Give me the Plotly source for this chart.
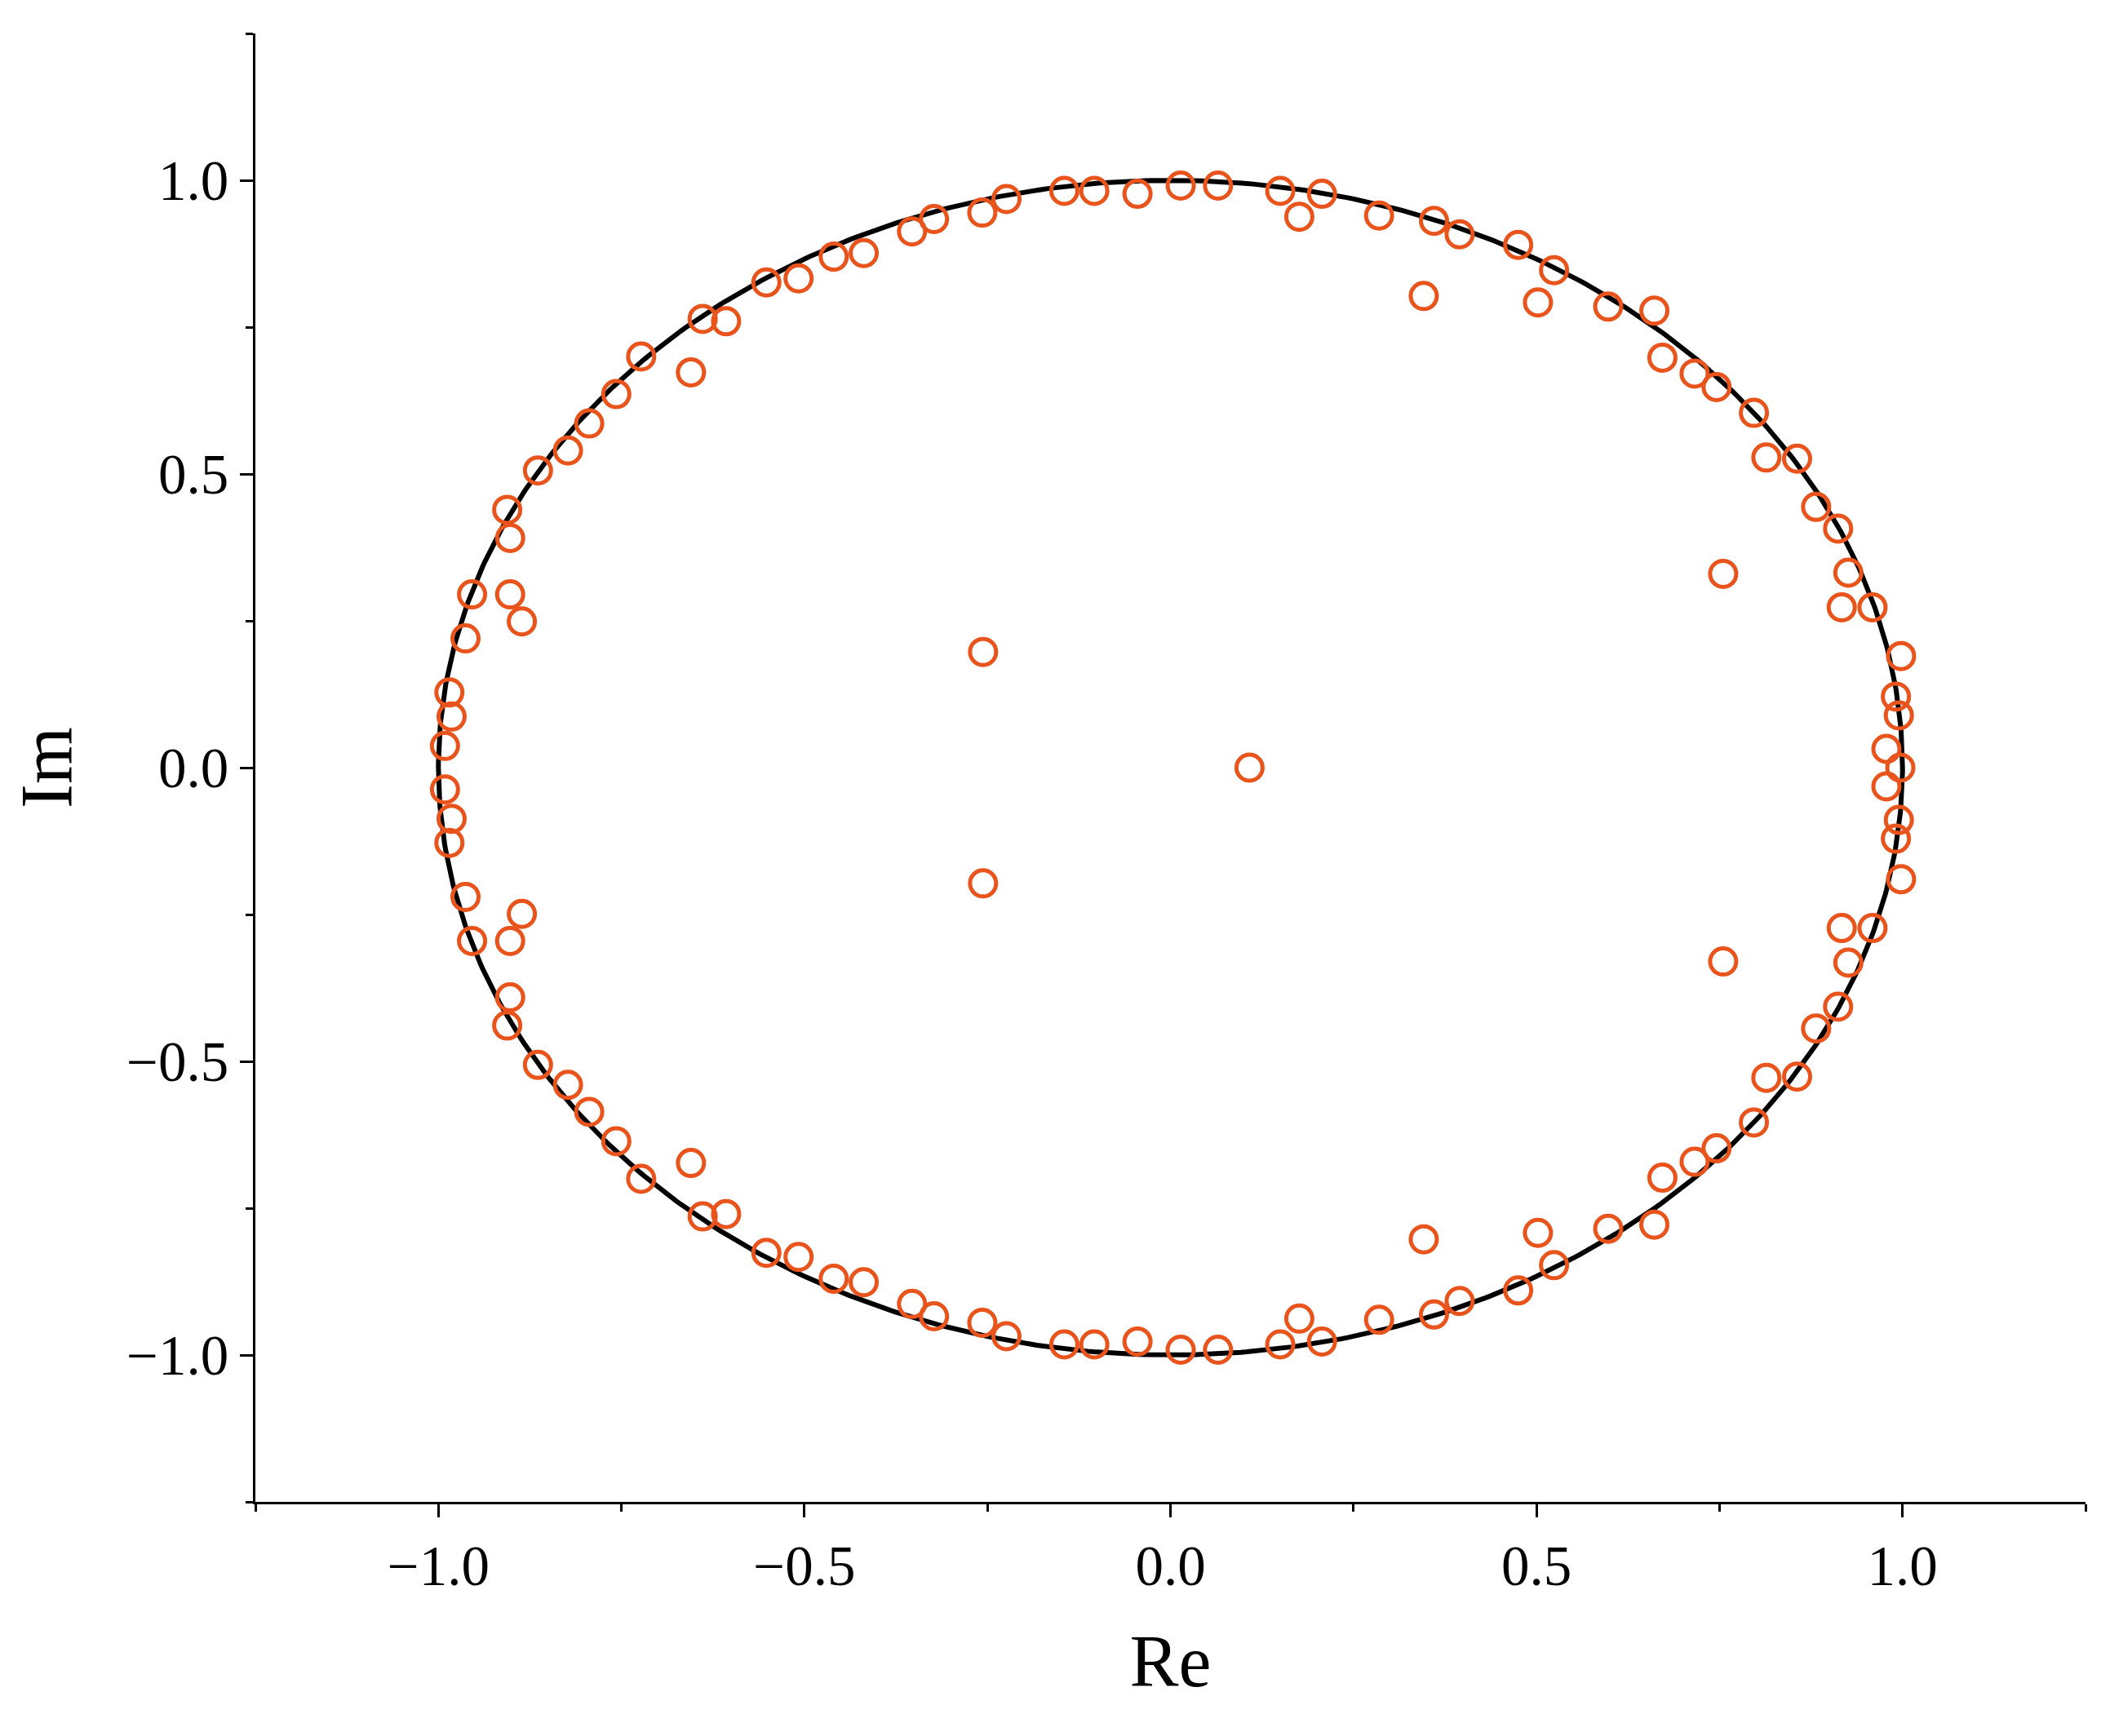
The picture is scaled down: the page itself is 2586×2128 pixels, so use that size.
import numpy as np
import plotly.graph_objects as go

# Poles in the upper half plane (Re, Im); the lower half is the conjugate mirror
re_upper = [-0.145, -0.104, -0.045, 0.014, 0.065, 0.150, 0.207, 0.176, 0.285, 0.360,
            0.395, 0.475, 0.524, 0.346, 0.502, 0.598, 0.661, 0.672, 0.716, 0.746,
            0.797, 0.814, 0.856, 0.882, 0.912, 0.926, 0.917, 0.959, 0.755, 0.998,
            0.991, 0.995, 0.978,
            -0.224, -0.257, -0.323, -0.353, -0.419, -0.460, -0.508, -0.552, -0.607,
            -0.639, -0.655, -0.723, -0.757, -0.794, -0.823, -0.864, -0.906, -0.902,
            -0.902, -0.954, -0.886, -0.963, -0.985, -0.982, -0.991, -0.256]
im_upper = [0.982, 0.982, 0.977, 0.991, 0.991, 0.982, 0.977, 0.938, 0.940, 0.931,
            0.908, 0.890, 0.847, 0.803, 0.792, 0.785, 0.778, 0.698, 0.671, 0.648,
            0.604, 0.528, 0.526, 0.444, 0.407, 0.332, 0.273, 0.273, 0.330, 0.190,
            0.121, 0.089, 0.032,
            0.968, 0.945, 0.934, 0.913, 0.876, 0.870, 0.833, 0.826, 0.760,
            0.764, 0.673, 0.700, 0.636, 0.586, 0.540, 0.506, 0.439, 0.391,
            0.295, 0.295, 0.249, 0.220, 0.128, 0.087, 0.037, 0.197]
re_real = [0.997, 0.108]
im_real = [0.0, 0.0]

re_all = re_upper + re_upper + re_real
im_all = im_upper + [-v for v in im_upper] + im_real

theta = np.linspace(0, 2 * np.pi, 721)

fig = go.Figure()
fig.add_trace(go.Scatter(x=np.cos(theta), y=np.sin(theta), mode="lines",
                         line=dict(color="black", width=6), showlegend=False))
fig.add_trace(go.Scatter(x=re_all, y=im_all, mode="markers", showlegend=False,
                         marker=dict(symbol="circle-open", size=32, color="#E8541C",
                                     line=dict(width=5, color="#E8541C"))))

axis_style = dict(
    range=[-1.25, 1.25], tickvals=[-1.0, -0.5, 0.0, 0.5, 1.0], tickformat=".1f",
    showgrid=False, zeroline=False, showline=True, linecolor="black", linewidth=3,
    ticks="outside", ticklen=16, tickwidth=3, tickcolor="black",
    minor=dict(tickvals=[-1.25, -0.75, -0.25, 0.25, 0.75, 1.25], ticks="outside",
               ticklen=9, tickwidth=3, tickcolor="black"),
    tickfont=dict(size=69, color="black"),
)
fig.update_xaxes(**axis_style, title=dict(text="Re", font=dict(size=90, color="black"), standoff=48))
fig.update_yaxes(**axis_style, title=dict(text="Im", font=dict(size=90, color="black"), standoff=44))

fig.update_layout(
    width=2586, height=2128,
    margin=dict(l=305, r=38, t=33, b=295),
    plot_bgcolor="white", paper_bgcolor="white",
    font=dict(family="Liberation Serif", color="black"),
)

fig.write_html("out.html")
